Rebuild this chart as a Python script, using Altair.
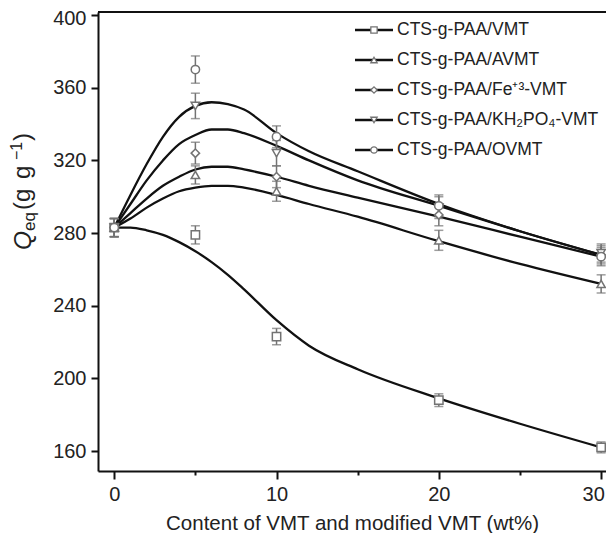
import altair as alt
import pandas as pd

series = ["CTS-g-PAA/VMT", "CTS-g-PAA/AVMT", "CTS-g-PAA/Fe⁺³-VMT",
          "CTS-g-PAA/KH₂PO₄-VMT", "CTS-g-PAA/OVMT"]
shapes = ["square", "triangle-up", "diamond", "triangle-down", "circle"]

# measured points
x_pts = [0, 5, 10, 20, 30]
q_vmt = [283, 279, 223, 188, 162]
q_avmt = [283, 312, 303, 276, 252]
q_fe = [283, 324, 311, 290, 268]
q_kh = [283, 350, 324, 294, 269]
q_ovmt = [283, 370, 333, 295, 267]

e_vmt = [5, 5, 4.5, 3.5, 3]
e_avmt = [5, 5, 5.5, 5.5, 5]
e_fe = [5, 6, 6, 6, 5]
e_kh = [5, 7, 7, 6, 5]
e_ovmt = [5, 7.5, 6, 6, 5]

# fitted curves
x_fit = [0, 1, 2, 3, 4, 5, 6, 7, 8, 10, 12, 15, 20, 25, 30]
f_vmt = [283, 283, 281.5, 279, 275, 270, 264, 257, 249, 232, 218, 205, 189, 175, 162]
f_avmt = [283, 288, 294, 299, 303, 305, 306, 306, 305, 301, 296, 289, 275.5, 263, 252]
f_fe = [283, 291, 299, 306, 311, 315, 316.5, 316.5, 315, 311, 306, 299.5, 289, 278, 267]
f_kh = [283, 296, 309, 320, 329, 334, 337, 337, 335, 328, 320, 309, 295, 281, 268]
f_ovmt = [283, 301, 318, 333, 344, 350, 352, 351, 348, 335, 325, 314, 296, 281, 268]

q_all = [q_vmt, q_avmt, q_fe, q_kh, q_ovmt]
e_all = [e_vmt, e_avmt, e_fe, e_kh, e_ovmt]
f_all = [f_vmt, f_avmt, f_fe, f_kh, f_ovmt]

pts = pd.DataFrame([
    {"s": s, "x": x, "q": q, "lo": q - e, "hi": q + e}
    for s, qs, es in zip(series, q_all, e_all)
    for x, q, e in zip(x_pts, qs, es)
])
fit = pd.DataFrame([
    {"s": s, "x": x, "q": q}
    for s, fs in zip(series, f_all)
    for x, q in zip(x_fit, fs)
])
leg = pd.DataFrame({"s": series, "row": list(range(len(series)))})

W, H = 508, 459
FONT = "Liberation Sans"
TXT = "#222222"
GRAY = "#737373"

xscale = alt.Scale(domain=[-1, 30.3], nice=False, zero=False)
yscale = alt.Scale(domain=[149, 401.7], nice=False, zero=False)
shape_scale = alt.Scale(domain=series, range=shapes)

xaxis = alt.Axis(
    values=[0, 5, 10, 15, 20, 25, 30], grid=False,
    tickSize={"condition": {"test": "datum.value % 10 !== 0", "value": 4}, "value": 8},
    labelOffset={"condition": {"test": "datum.value === 30", "value": -8}, "value": 0},
    labelExpr="datum.value % 10 === 0 ? datum.label : ''",
    labelFlush=False, labelPadding=5, titlePadding=9, titleFontSize=20.5,
    title="Content of VMT and modified VMT (wt%)",
)
yaxis = alt.Axis(
    values=list(range(160, 401, 20)), grid=False,
    tickSize={"condition": {"test": "datum.value % 40 !== 0", "value": 4}, "value": 7},
    labelOffset={"condition": {"test": "datum.value === 400", "value": 3}, "value": 0},
    labelExpr="datum.value % 40 === 0 ? datum.label : ''",
    labelFlush=False, labelPadding=5, title=None,
)

X = alt.X("x:Q", scale=xscale, axis=xaxis)
Y = alt.Y("q:Q", scale=yscale, axis=yaxis)

lines = alt.Chart(fit).mark_line(
    interpolate="monotone", color="#111111", strokeWidth=2.3
).encode(x=X, y=Y, detail="s:N")

err = alt.Chart(pts).mark_rule(color=GRAY, strokeWidth=1.5).encode(
    x=alt.X("x:Q", scale=xscale), y=alt.Y("lo:Q", scale=yscale), y2="hi:Q")
cap_lo = alt.Chart(pts).mark_tick(
    orient="horizontal", color=GRAY, size=9, thickness=1.5
).encode(x=alt.X("x:Q", scale=xscale), y=alt.Y("lo:Q", scale=yscale))
cap_hi = alt.Chart(pts).mark_tick(
    orient="horizontal", color=GRAY, size=9, thickness=1.5
).encode(x=alt.X("x:Q", scale=xscale), y=alt.Y("hi:Q", scale=yscale))

points = alt.Chart(pts).mark_point(
    filled=False, fill="white", fillOpacity=1, stroke=GRAY, strokeWidth=1.5, size=70
).encode(
    x=alt.X("x:Q", scale=xscale), y=alt.Y("q:Q", scale=yscale),
    shape=alt.Shape("s:N", scale=shape_scale, legend=None),
)

frame = alt.Chart(pd.DataFrame({"a": [0]})).mark_rule(
    color="#111111", strokeWidth=2
).encode(x=alt.value(0), x2=alt.value(W), y=alt.value(0))

def piece(text, x, y, size, style="normal"):
    return alt.Chart(pd.DataFrame({"a": [0]})).mark_text(
        text=text, angle=270, align="left", baseline="alphabetic",
        font=FONT, fontSize=size, fontStyle=style, color=TXT
    ).encode(x=alt.value(x), y=alt.value(y))

ytitle = alt.layer(
    piece("Q", -67, 238, 24.5, "italic"),
    piece("eq", -63, 219, 17),
    piece("(g", -68, 198, 24),
    piece("g", -68, 167, 24),
    piece("−1", -76, 148, 16),
    piece(")", -68, 129, 24),
)

main = alt.layer(lines, err, cap_lo, cap_hi, points, frame, ytitle)

lrow = alt.Y("row:Q", scale=alt.Scale(domain=[-0.6, 14.7], reverse=True, nice=False, zero=False), axis=None)
leg_line = alt.Chart(leg).mark_rule(color="#111111", strokeWidth=2.5).encode(
    x=alt.value(257), x2=alt.value(295), y=lrow)
leg_pt = alt.Chart(leg).mark_point(
    filled=False, fill="white", fillOpacity=1, stroke=GRAY, strokeWidth=1.3, size=40
).encode(x=alt.value(276), y=lrow,
         shape=alt.Shape("s:N", scale=shape_scale, legend=None))
leg_txt = alt.Chart(leg).mark_text(
    align="left", baseline="middle", font=FONT, fontSize=17.5, color=TXT
).encode(x=alt.value(299), y=lrow, text="s:N")
legend = alt.layer(leg_line, leg_pt, leg_txt)

chart = alt.layer(main, legend).resolve_scale(y="independent").properties(
    width=W, height=H,
    autosize=alt.AutoSizeParams(type="none"),
    padding={"left": 90, "top": 4, "right": 0, "bottom": 62},
).configure_view(stroke=None).configure_axis(
    domainColor="#111111", domainWidth=2, tickColor="#111111", tickWidth=2,
    labelFont=FONT, labelFontSize=20, labelColor=TXT,
    titleFont=FONT, titleFontSize=20, titleColor=TXT, titleFontWeight="normal",
)

chart.save("out.html", embed_options={"renderer": "svg", "actions": False})
